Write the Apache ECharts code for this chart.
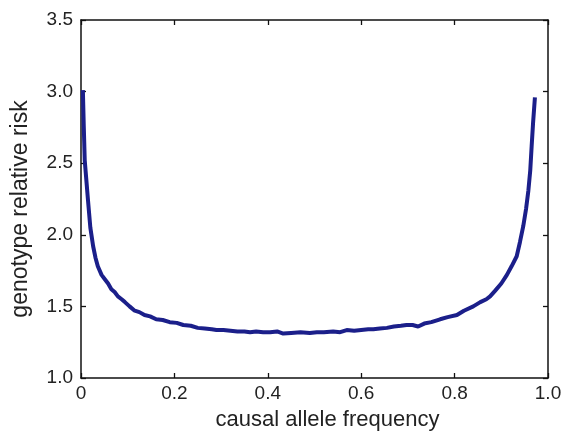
<!DOCTYPE html>
<html>
<head>
<meta charset="utf-8">
<script src="https://cdn.jsdelivr.net/npm/echarts@6/dist/echarts.min.js"></script>
<style>
html,body{margin:0;padding:0;background:#fff;}
#c{width:562px;height:432px;}
</style>
</head>
<body>
<div id="c"></div>
<script>
const freq = [0.004,0.006,0.008,0.011,0.015,0.020,0.026,0.031,0.036,0.044,0.051,0.058,0.065,0.072,0.079,0.087,0.094,0.104,0.115,0.125,0.136,0.148,0.161,0.175,0.19,0.205,0.219,0.235,0.25,0.265,0.28,0.29,0.305,0.32,0.335,0.35,0.362,0.375,0.39,0.405,0.42,0.433,0.45,0.47,0.49,0.505,0.52,0.54,0.555,0.569,0.585,0.60,0.615,0.626,0.64,0.655,0.67,0.685,0.697,0.71,0.722,0.735,0.75,0.769,0.785,0.805,0.82,0.84,0.855,0.868,0.876,0.887,0.90,0.912,0.922,0.933,0.94,0.947,0.953,0.958,0.962,0.965,0.968,0.972];
const risk = [3.01,2.75,2.52,2.40,2.24,2.05,1.92,1.84,1.78,1.72,1.69,1.66,1.62,1.60,1.57,1.55,1.53,1.50,1.47,1.46,1.44,1.43,1.41,1.405,1.39,1.385,1.37,1.365,1.35,1.345,1.34,1.335,1.335,1.33,1.325,1.325,1.32,1.325,1.32,1.32,1.325,1.31,1.315,1.32,1.315,1.32,1.32,1.325,1.32,1.335,1.33,1.335,1.34,1.34,1.345,1.35,1.36,1.365,1.37,1.37,1.36,1.38,1.39,1.41,1.425,1.44,1.47,1.50,1.53,1.55,1.57,1.61,1.66,1.72,1.78,1.85,1.95,2.06,2.18,2.31,2.45,2.62,2.78,2.96];
const xTicks = [0, 0.2, 0.4, 0.6, 0.8, 1.0];
const yTicks = [1.0, 1.5, 2.0, 2.5, 3.0, 3.5];
const xTitle = 'causal allele frequency';
const yTitle = 'genotype relative risk';

const font = 'Liberation Sans, Arial, sans-serif';
const lineStyle = {color:'#111', width:1.5};
const chart = echarts.init(document.getElementById('c'));
const common = {
  axisLine:{show:true, onZero:false, lineStyle},
  axisTick:{show:true, inside:true, length:5, lineStyle:{color:'#111', width:1.3}},
  splitLine:{show:false}
};
chart.setOption({
  animation:false,
  grid:{left:81, right:14, top:20, bottom:54, containLabel:false, outerBoundsMode:'none'},
  xAxis:[
    Object.assign({type:'value', min:xTicks[0], max:xTicks[xTicks.length-1], interval:0.2, position:'bottom',
      name:xTitle, nameLocation:'middle', nameGap:31,
      nameTextStyle:{fontFamily:font, fontSize:22, color:'#222', padding:[0,0,0,26]},
      axisLabel:{fontFamily:font, fontSize:19, color:'#222', margin:6,
        formatter:v=> v===0 ? '0' : v.toFixed(1)}}, common),
    Object.assign({type:'value', min:xTicks[0], max:xTicks[xTicks.length-1], interval:0.2, position:'top',
      axisLabel:{show:false}}, common)
  ],
  yAxis:[
    Object.assign({type:'value', min:yTicks[0], max:yTicks[yTicks.length-1], interval:0.5, position:'left',
      name:yTitle, nameLocation:'middle', nameGap:49, nameRotate:90,
      nameTextStyle:{fontFamily:font, fontSize:23, color:'#222', padding:[0,20,0,0]},
      axisLabel:{fontFamily:font, fontSize:19, color:'#222', margin:8,
        formatter:v=> v.toFixed(1)}}, common),
    Object.assign({type:'value', min:yTicks[0], max:yTicks[yTicks.length-1], interval:0.5, position:'right',
      axisLabel:{show:false}}, common)
  ],
  series:[{
    type:'line',
    data:freq.map((f,i)=>[f, risk[i]]),
    showSymbol:false,
    smooth:false,
    lineStyle:{color:'#1b1f8a', width:4},
    xAxisIndex:0, yAxisIndex:0
  }]
});
</script>
</body>
</html>
